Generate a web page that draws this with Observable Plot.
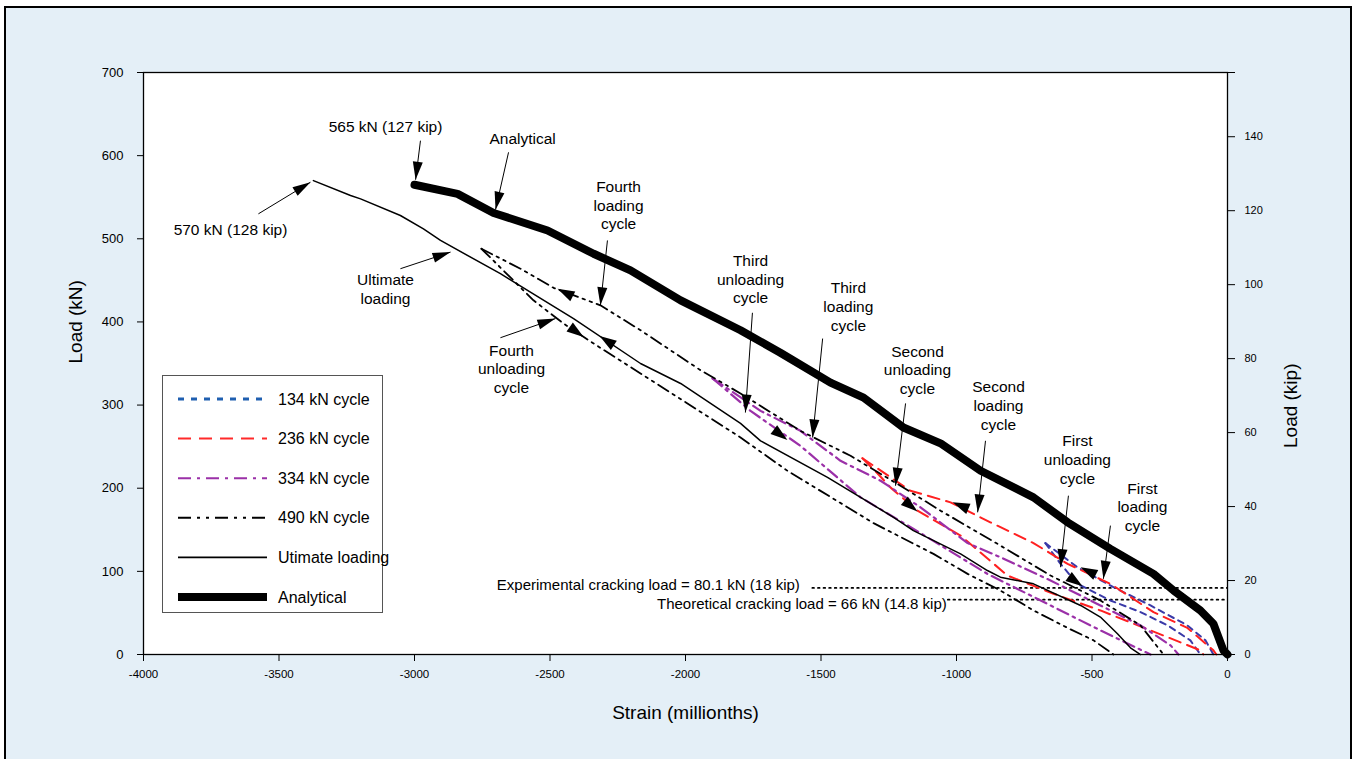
<!DOCTYPE html>
<html><head><meta charset="utf-8">
<script src="https://cdn.jsdelivr.net/npm/d3@7"></script>
<script src="https://cdn.jsdelivr.net/npm/@observablehq/plot@0.6"></script>
<style>
body{margin:0;background:#fff;font-family:"Liberation Sans",Arial,sans-serif;overflow:hidden;}
#box{position:absolute;left:4px;top:6px;width:1348px;height:800px;border:2px solid #000;background:#e4eff7;box-sizing:border-box;}
#chart{position:absolute;left:0;top:0;}
#legend{position:absolute;left:0;top:0;}
</style></head>
<body>
<div id="box"></div>
<div id="chart"></div>
<svg id="legend" width="1355" height="759"></svg>
<script>
// ---------------- data (strain in millionths, load in kN) ----------------
const analytical = [[-3000,565],[-2841,554],[-2708,531],[-2509,510],[-2339,482],[-2203,462],[-2018,426],[-1797,390],[-1650,363],[-1465,327],[-1343,309],[-1196,273],[-1059,254],[-911,221],[-716,189],[-590,159],[-432,127],[-273,97],[-199,77],[-100,53],[-52,37],[-15,5],[0,0]];
const ultimate = [[-3373,570],[-3236,552],[-3199,548],[-3052,528],[-2967,512],[-2904,498],[-2683,458],[-2413,404],[-2166,350],[-2018,326],[-1797,278],[-1723,257],[-1476,213],[-1232,165],[-1159,149],[-985,121],[-886,101],[-838,93],[-716,85],[-542,59],[-469,45],[-406,25],[-358,8],[-321,0]];
const cycle490Loading = [[-2753,488],[-2609,464],[-2487,441],[-2314,420],[-2166,390],[-1945,342],[-1797,314],[-1576,269],[-1391,239],[-1207,203],[-1059,173],[-838,131],[-653,95],[-469,65],[-321,35],[-236,0]];
const cycle490Unloading = [[-2753,488],[-2561,426],[-2450,398],[-2339,374],[-2166,338],[-1797,261],[-1624,221],[-1306,158],[-1085,121],[-959,97],[-838,77],[-716,53],[-590,32],[-494,17],[-421,0]];
const cycle334Loading = [[-1900,332],[-1723,293],[-1576,269],[-1428,233],[-1280,209],[-1133,177],[-959,134],[-838,117],[-653,89],[-469,59],[-321,35],[-210,11],[-181,0]];
const cycle334Unloading = [[-1900,332],[-1760,293],[-1576,251],[-1354,189],[-1133,146],[-886,97],[-653,59],[-469,29],[-284,0]];
const cycle236Loading = [[-1347,236],[-1170,197],[-1022,183],[-875,159],[-716,134],[-590,109],[-432,85],[-273,51],[-148,32],[-52,5],[-41,0]];
const cycle236Unloading = [[-1347,236],[-1292,218],[-1244,201],[-1144,173],[-985,143],[-812,95],[-642,73],[-469,53],[-284,29],[-100,5],[-89,0]];
const cycle134Loading = [[-672,134],[-554,105],[-421,81],[-284,59],[-148,35],[-81,17],[-52,0]];
const cycle134Unloading = [[-672,134],[-616,109],[-554,85],[-432,65],[-321,51],[-221,35],[-137,17],[-100,0]];

const experimentalCracking = [{load:80.1, from:-1530, to:0, text:"Experimental cracking load = 80.1 kN (18 kip)", tx:-1578}];
const theoreticalCracking = [{load:66, from:-1030, to:0, text:"Theoretical cracking load = 66 kN (14.8 kip)", tx:-1036}];

// annotations: text centre, arrow tail and tip (strain, kN)
const notes = [
  {text:"565 kN (127 kip)", x:-3107, y:636, x1:-2978, y1:618, x2:-2996, y2:571},
  {text:"Analytical", x:-2601, y:621, x1:-2653, y1:604, x2:-2701, y2:535},
  {text:"570 kN (128 kip)", x:-3679, y:512, x1:-3576, y1:530, x2:-3384, y2:568},
  {text:"Ultimate\nloading", x:-3107, y:440, x1:-3052, y1:464, x2:-2867, y2:484},
  {text:"Fourth\nloading\ncycle", x:-2247, y:541, x1:-2288, y1:498, x2:-2314, y2:420},
  {text:"Third\nunloading\ncycle", x:-1760, y:452, x1:-1753, y1:411, x2:-1779, y2:291},
  {text:"Third\nloading\ncycle", x:-1399, y:419, x1:-1494, y1:380, x2:-1531, y2:261},
  {text:"Second\nunloading\ncycle", x:-1144, y:343, x1:-1188, y1:302, x2:-1225, y2:203},
  {text:"Second\nloading\ncycle", x:-845, y:300, x1:-893, y1:257, x2:-922, y2:171},
  {text:"First\nunloading\ncycle", x:-554, y:235, x1:-587, y1:191, x2:-616, y2:105},
  {text:"First\nloading\ncycle", x:-314, y:178, x1:-432, y1:155, x2:-458, y2:91},
  {text:"Fourth\nunloading\ncycle", x:-2642, y:344, x1:-2683, y1:381, x2:-2480, y2:404}
];
// direction arrowheads sitting on the curves: direction from (x1,y1) to tip (x2,y2)
const dirArrows = [
  {x1:-2369, y1:423, x2:-2472, y2:440},
  {x1:-2450, y1:399, x2:-2376, y2:382},
  {x1:-2251, y1:369, x2:-2317, y2:383},
  {x1:-1697, y1:276, x2:-1624, y2:258},
  {x1:-1215, y1:191, x2:-1144, y2:172},
  {x1:-941, y1:173, x2:-1014, y2:183},
  {x1:-609, y1:99, x2:-535, y2:82},
  {x1:-476, y1:94, x2:-542, y2:105}
];

const kipTicks = [0,20,40,60,80,100,120,140];
const loadTicks = [0,100,200,300,400,500,600,700];
const strainTicks = [-4000,-3500,-3000,-2500,-2000,-1500,-1000,-500,0];
const KN_PER_KIP = 4.44822;

const legendItems = [
  {label:"134 kN cycle", color:"#1f5fb0", width:3, dash:"6,7"},
  {label:"236 kN cycle", color:"#ff2a2a", width:2, dash:"13,8"},
  {label:"334 kN cycle", color:"#9b30a8", width:2, dash:"13,6,3,6"},
  {label:"490 kN cycle", color:"#000", width:2, dash:"13,6,3,6,3,6"},
  {label:"Utimate loading", color:"#000", width:1.6, dash:null},
  {label:"Analytical", color:"#000", width:8, dash:null}
];

// ---------------- layout ----------------
const W = 1355, H = 759;
const padL = 143, padR = 1227, padT = 72, padB = 654;
const xs = d3.scaleLinear([-4000,0],[padL,padR]);
const ys = d3.scaleLinear([0,700],[padB,padT]);

function head(a, L=18, w=5){
  const c=Math.cos(a), s=Math.sin(a);
  return {draw(ctx){
    const bx=-L*c, by=-L*s;
    ctx.moveTo(0,0);
    ctx.lineTo(bx + w*s, by - w*c);
    ctx.lineTo(bx - w*s, by + w*c);
    ctx.closePath();
  }};
}
function angle(d){ return Math.atan2(ys(d.y2)-ys(d.y1), xs(d.x2)-xs(d.x1)); }

const P = d => ({s:d[0], l:d[1]});
const line = (arr, o) => Plot.line(arr.map(P), {x:"s", y:"l", strokeLinejoin:"round", ...o});
const crackRule = arr => Plot.ruleY(arr, {y:"load", x1:"from", x2:"to", stroke:"black", strokeWidth:1.8, strokeDasharray:"1.6,4", strokeLinecap:"round"});

const marks = [
  Plot.frame({fill:"white", stroke:null}),
  Plot.axisY({ticks:loadTicks, tickSize:6, tickPadding:14, fontSize:13, label:null}),
  Plot.axisX({ticks:strainTicks, tickSize:7, tickPadding:8, fontSize:11.5, label:null, tickFormat:d=>String(d)}),
  Plot.axisY({anchor:"right", ticks:[...kipTicks.map(k=>k*KN_PER_KIP), 700], tickSize:7, tickPadding:10, fontSize:11, label:null, tickFormat:d=>d===700?"":String(Math.round(d/KN_PER_KIP))}),
  crackRule(experimentalCracking),
  crackRule(theoreticalCracking),
  Plot.text(experimentalCracking, {x:"tx", y:"load", dy:-3, text:"text", textAnchor:"end", fontSize:15}),
  Plot.text(theoreticalCracking, {x:"tx", y:"load", dy:5, text:"text", textAnchor:"end", fontSize:15}),
  line(cycle134Loading, {stroke:"#3a3aa8", strokeWidth:2, strokeDasharray:"6,5"}),
  line(cycle134Unloading, {stroke:"#3a3aa8", strokeWidth:2, strokeDasharray:"6,5"}),
  line(cycle236Loading, {stroke:"#ff2020", strokeWidth:2, strokeDasharray:"12,7"}),
  line(cycle236Unloading, {stroke:"#ff2020", strokeWidth:2, strokeDasharray:"12,7"}),
  line(cycle334Loading, {stroke:"#9b30a8", strokeWidth:2.2, strokeDasharray:"12,5,2.5,5"}),
  line(cycle334Unloading, {stroke:"#9b30a8", strokeWidth:2.2, strokeDasharray:"12,5,2.5,5"}),
  line(cycle490Loading, {stroke:"black", strokeWidth:1.8, strokeDasharray:"12,5,2.5,5,2.5,5"}),
  line(cycle490Unloading, {stroke:"black", strokeWidth:1.8, strokeDasharray:"12,5,2.5,5,2.5,5"}),
  line(ultimate, {stroke:"black", strokeWidth:1.5}),
  line(analytical, {stroke:"black", strokeWidth:8}),
  Plot.frame({stroke:"black", strokeWidth:1.3}),
  Plot.link(notes, {x1:"x1", y1:"y1", x2:"x2", y2:"y2", stroke:"black", strokeWidth:1}),
  ...notes.map(d => Plot.dot([d], {x:"x2", y:"y2", r:6, symbol:head(angle(d)), fill:"black", stroke:"none"})),
  ...dirArrows.map(d => Plot.dot([d], {x:"x2", y:"y2", r:6, symbol:head(angle(d), 17, 5.5), fill:"black", stroke:"none"})),
  Plot.text(notes, {x:"x", y:"y", text:"text", fontSize:15.5, lineHeight:1.2, textAnchor:"middle"}),
  Plot.text(["Load (kN)"], {frameAnchor:"left", dx:-68, rotate:-90, fontSize:19}),
  Plot.text(["Load (kip)"], {frameAnchor:"right", dx:63, rotate:-90, fontSize:19}),
  Plot.text(["Strain (millionths)"], {frameAnchor:"bottom", dy:64, fontSize:19})
];

const chart = Plot.plot({
  width:W, height:H,
  marginLeft:padL, marginRight:W-padR, marginTop:padT, marginBottom:H-padB,
  x:{domain:[-4000,0]}, y:{domain:[0,700]},
  style:{background:"transparent", fontFamily:"'Liberation Sans', Arial, sans-serif", color:"black", overflow:"visible"},
  marks
});
document.getElementById("chart").appendChild(chart);

// ---------------- legend (inside the plot area) ----------------
const lg = d3.select("#legend");
lg.append("rect").attr("x",162.5).attr("y",375.5).attr("width",220).attr("height",237)
  .attr("fill","white").attr("stroke","#555").attr("stroke-width",1);
legendItems.forEach((it,i)=>{
  const yy = 399 + i*39.6;
  const l = lg.append("line").attr("x1",178).attr("x2",267).attr("y1",yy).attr("y2",yy)
    .attr("stroke",it.color).attr("stroke-width",it.width);
  if (it.dash) l.attr("stroke-dasharray",it.dash);
  lg.append("text").attr("x",278).attr("y",yy).attr("dy","0.35em")
    .attr("font-size",16).attr("font-family","'Liberation Sans', Arial, sans-serif").text(it.label);
});
</script>
</body></html>
